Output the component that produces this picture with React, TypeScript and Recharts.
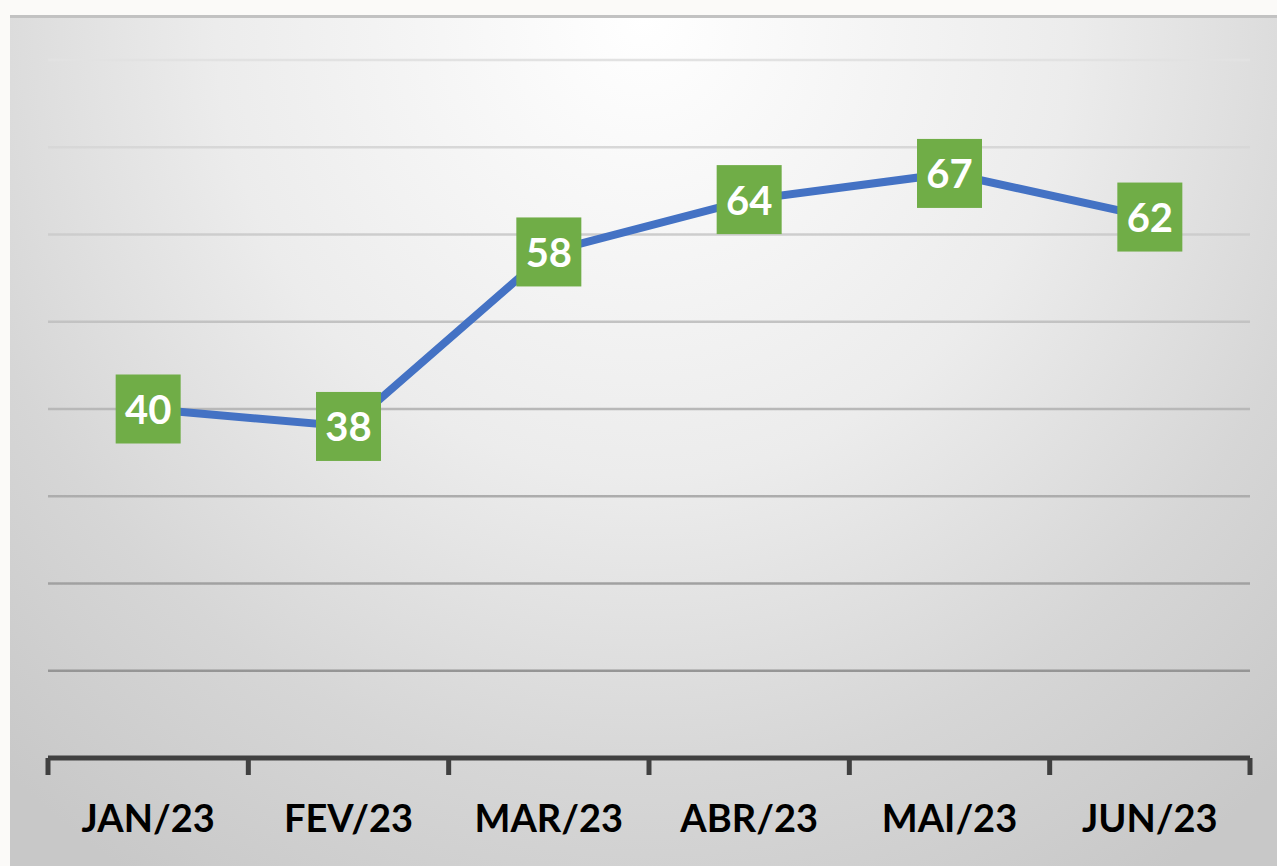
import { LineChart, Line, XAxis, YAxis, CartesianGrid, LabelList } from "recharts";

const months = ["JAN/23", "FEV/23", "MAR/23", "ABR/23", "MAI/23", "JUN/23"];
const values = [40, 38, 58, 64, 67, 62];
const yTicks = [0, 10, 20, 30, 40, 50, 60, 70, 80];

const data = months.map((m, i) => ({ month: m, value: values[i] }));

const CHART_W = 1267;
const CHART_H = 851;
const MARGIN = { top: 45, right: 27, bottom: 48, left: 38 };
const PLOT_W = CHART_W - MARGIN.left - MARGIN.right;
const BAND = PLOT_W / months.length;
const FONT = "Lato, 'Open Sans', sans-serif";

// etiqueta do eixo + marcas de divisão entre categorias
const MonthTick = (props: any) => {
  const { x, y, payload, index } = props;
  const half = BAND / 2;
  const isLast = index === months.length - 1;
  return (
    <g>
      <line x1={x - half} y1={y - 8} x2={x - half} y2={y + 9} stroke="#404040" strokeWidth={5} />
      {isLast && <line x1={x + half} y1={y - 8} x2={x + half} y2={y + 9} stroke="#404040" strokeWidth={5} />}
      <text x={x} y={y + 66} textAnchor="middle" fontFamily={FONT} fontWeight={700} fontSize={38} fill="#000">
        {payload.value}
      </text>
    </g>
  );
};

// caixa verde com o valor
const ValueBox = (props: any) => {
  const { x, y, value } = props;
  const w = 65;
  const h = 69;
  return (
    <g>
      <rect x={x - w / 2} y={y - h / 2} width={w} height={h} fill="#70AD47" />
      <text x={x} y={y + 15} textAnchor="middle" fontFamily={FONT} fontWeight={700} fontSize={40} fill="#fff">
        {value}
      </text>
    </g>
  );
};

export default function App() {
  return (
    <div style={{ position: "absolute", left: 0, top: 0, width: 1277, height: 866, background: "#FBFAF8", overflow: "hidden" }}>
      <div
        style={{
          position: "absolute",
          left: 10,
          top: 15,
          width: CHART_W,
          height: CHART_H,
          borderTop: "3px solid #c2c2c2",
          boxSizing: "border-box",
          background: "radial-gradient(ellipse 75% 120% at 50% 0%, #ffffff 0%, #ececec 45%, #d6d6d6 75%, #c8c8c8 100%)",
        }}
      >
        <div style={{ position: "absolute", left: 0, top: -3 }}>
          <LineChart width={CHART_W} height={CHART_H} data={data} margin={MARGIN}>
            <defs>
              <linearGradient id="gridGrad" gradientUnits="userSpaceOnUse" x1="0" y1={MARGIN.top} x2="0" y2={CHART_H - MARGIN.bottom - 60}>
                <stop offset="0%" stopColor="#e2e2e2" />
                <stop offset="50%" stopColor="#b8b8b8" />
                <stop offset="100%" stopColor="#8a8a8a" />
              </linearGradient>
            </defs>
            <CartesianGrid vertical={false} stroke="url(#gridGrad)" strokeWidth={2.5} />
            <YAxis hide domain={[0, 80]} ticks={yTicks} width={0} />
            <XAxis
              dataKey="month"
              scale="band"
              height={60}
              axisLine={{ stroke: "#404040", strokeWidth: 5 }}
              tickLine={false}
              tick={<MonthTick />}
              interval={0}
            />
            <Line
              type="linear"
              dataKey="value"
              stroke="#4472C4"
              strokeWidth={8}
              dot={false}
              isAnimationActive={false}
            >
              <LabelList dataKey="value" content={<ValueBox />} />
            </Line>
          </LineChart>
        </div>
      </div>
    </div>
  );
}
